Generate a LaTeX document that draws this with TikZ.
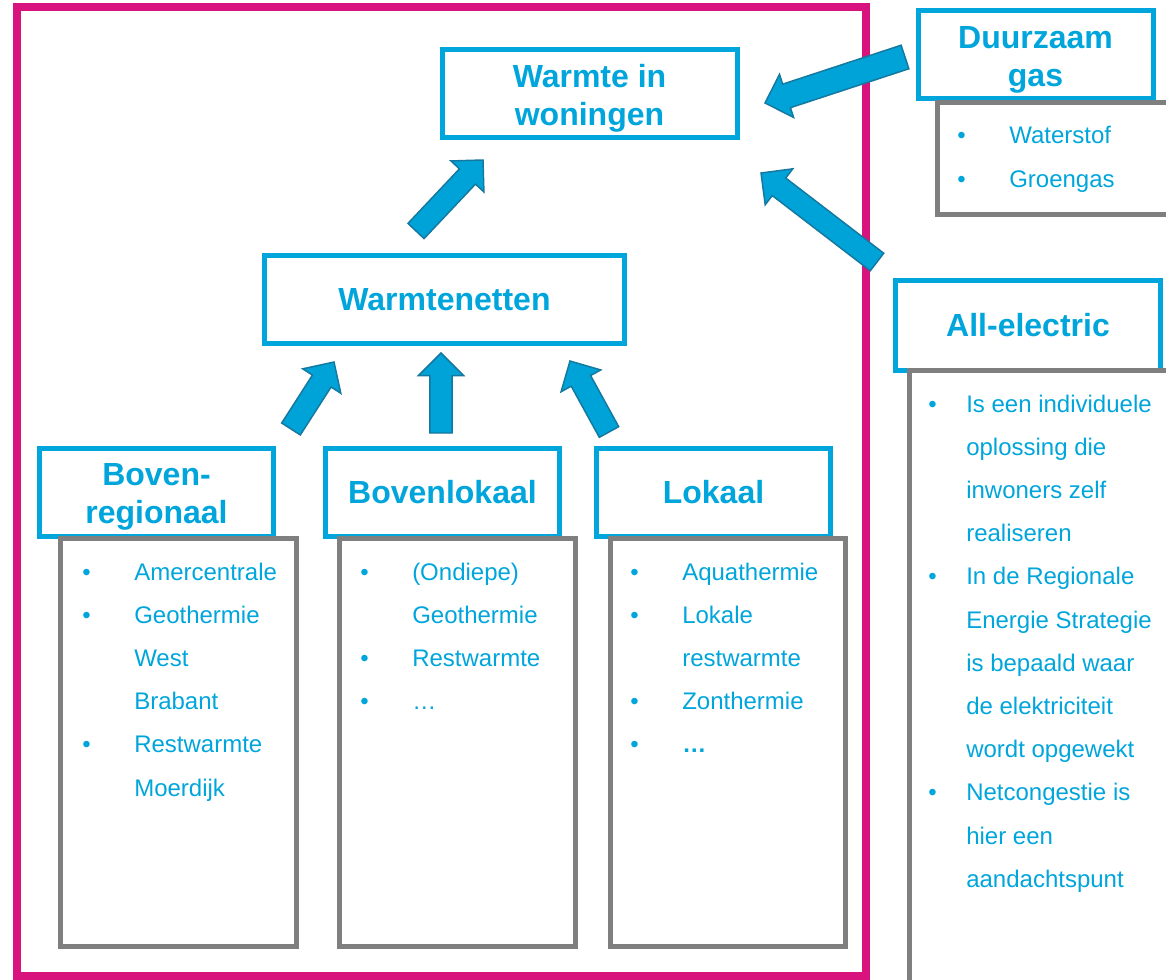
\documentclass[tikz,border=0pt]{standalone}
\usepackage{fontspec}
\setmainfont{Liberation Sans}
\usetikzlibrary{calc}

\definecolor{warmblauw}{HTML}{00A5DB}
\definecolor{pijlblauw}{HTML}{00A3D8}
\definecolor{pijlrand}{HTML}{14789F}
\definecolor{kadergrijs}{HTML}{7F7F7F}
\definecolor{kadermagenta}{HTML}{D8137E}

% dikke blokpijl van staart naar punt (optioneel: halve schachtbreedte)
\newcommand{\blokpijl}[3][8.3pt]{%
  \coordinate (kopvoet) at ($(#3)!17pt!(#2)$);
  \draw[pijl] ($(#2)!#1!90:(#3)$) -- ($(kopvoet)!#1!90:(#3)$)
    -- ($(kopvoet)!17pt!90:(#3)$) -- (#3)
    -- ($(kopvoet)!17pt!-90:(#3)$) -- ($(kopvoet)!#1!-90:(#3)$)
    -- ($(#2)!#1!-90:(#3)$) -- cycle;}
% extra hoogte boven een kop van twee regels
\newcommand{\bovenruimte}{\rule{0pt}{23.3pt}}

\begin{document}
\begin{tikzpicture}[x=0.75pt, y=-0.75pt,
    kop/.style={draw=warmblauw, line width=3.75pt, text=warmblauw, align=center,
      font=\fontsize{24}{28.5}\selectfont\bfseries, minimum width=175.5pt, minimum height=66pt},
    lijst/.style={draw=kadergrijs, line width=3.75pt},
    punten/.style={anchor=base west, inner sep=0pt, text=warmblauw,
      font=\fontsize{18}{32.4}\selectfont},
    pijl/.style={fill=pijlblauw, draw=pijlrand, line width=1.1pt, line join=miter}]
  \useasboundingbox (0,0) rectangle (1166,980);
  \clip (0,0) rectangle (1166,980);

  % kader rond de warmtenetten
  \draw[kadermagenta, line width=6pt] (17,7) rectangle (865.5,976);

  % kopjes
  \node[kop, minimum width=221.25pt] (woningen) at (589.5,94) {\bovenruimte Warmte in\\woningen};
  \node[kop, minimum width=270pt, minimum height=65.6pt] (netten) at (444.5,299.5) {Warmtenetten};
  \node[kop] (bovreg) at (156.5,492.5) {\bovenruimte Boven-\\regionaal};
  \node[kop] (bovlok) at (442.5,492.5) {Bovenlokaal};
  \node[kop] (lokaal) at (713.5,492.5) {Lokaal};
  \node[kop, minimum width=176.25pt] (gas) at (1035.5,55) {\bovenruimte Duurzaam\\gas};
  \node[kop, minimum width=198.75pt, minimum height=67.5pt] (elec) at (1028,325.5) {All-electric};

  % grijze vakken
  \node[lijst, minimum width=177pt, minimum height=306pt] (bovreg-vak) at (178.5,742) {};
  \node[lijst, minimum width=177pt, minimum height=306pt] (bovlok-vak) at (457.5,742) {};
  \node[lijst, minimum width=176.25pt, minimum height=306pt] (lokaal-vak) at (728,742) {};
  \node[lijst, minimum width=189.75pt, minimum height=84pt] (gas-vak) at (1063.5,159) {};
  \node[lijst, minimum width=218.25pt, minimum height=480pt] (elec-vak) at (1054.5,690) {};

  % opsommingen
  \node[punten] (bovreg-lijst) at (82,580) {\begin{tabular}[t]{@{}p{39pt}@{}l@{}}
    • & Amercentrale\\
    • & Geothermie\\
      & West\\
      & Brabant\\
    • & Restwarmte\\
      & Moerdijk
  \end{tabular}};
  \node[punten] (bovlok-lijst) at (360,580) {\begin{tabular}[t]{@{}p{39pt}@{}l@{}}
    • & (Ondiepe)\\
      & Geothermie\\
    • & Restwarmte\\
    • & …
  \end{tabular}};
  \node[punten] (lokaal-lijst) at (630,580) {\begin{tabular}[t]{@{}p{39pt}@{}l@{}}
    • & Aquathermie\\
    • & Lokale\\
      & restwarmte\\
    • & Zonthermie\\
    • & \textbf{…}
  \end{tabular}};
  \node[punten] (gas-lijst) at (957,144) {\begin{tabular}[t]{@{}p{39pt}@{}l@{}}
    • & Waterstof\\
    • & Groengas
  \end{tabular}};
  \node[punten] (elec-lijst) at (928,412) {\begin{tabular}[t]{@{}p{28.5pt}@{}l@{}}
    • & Is een individuele\\
      & oplossing die\\
      & inwoners zelf\\
      & realiseren\\
    • & In de Regionale\\
      & Energie Strategie\\
      & is bepaald waar\\
      & de elektriciteit\\
      & wordt opgewekt\\
    • & Netcongestie is\\
      & hier een\\
      & aandachtspunt
  \end{tabular}};

  % pijlen
  \coordinate (nw-start) at (416,231);  \coordinate (nw-eind) at (483,160);
  \coordinate (gw-start) at (905,57);   \coordinate (gw-eind) at (765,103);
  \coordinate (ew-start) at (877,262);  \coordinate (ew-eind) at (761,173);
  \coordinate (rn-start) at (291,429);  \coordinate (rn-eind) at (334,362);
  \coordinate (bn-start) at (441,433);  \coordinate (bn-eind) at (441,353);
  \coordinate (ln-start) at (609,432);  \coordinate (ln-eind) at (570,361);
  \blokpijl{nw-start}{nw-eind}
  \blokpijl[9.3pt]{gw-start}{gw-eind}
  \blokpijl{ew-start}{ew-eind}
  \blokpijl{rn-start}{rn-eind}
  \blokpijl{bn-start}{bn-eind}
  \blokpijl{ln-start}{ln-eind}
\end{tikzpicture}
\end{document}
